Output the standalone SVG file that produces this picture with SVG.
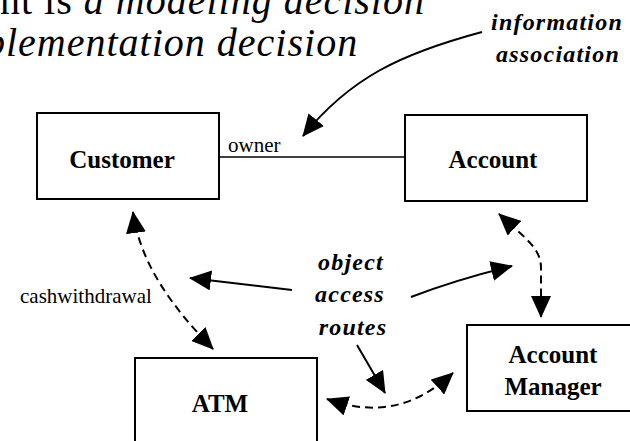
<svg xmlns="http://www.w3.org/2000/svg" width="630" height="441" viewBox="0 0 630 441">
  <defs>
    <style>
      .box { fill: #fff; stroke: #000; stroke-width: 2; }
      .name { font-family: "Liberation Serif", "Times New Roman", serif; font-weight: bold; font-size: 25px; fill: #000; text-anchor: middle; }
      .role { font-family: "Liberation Serif", "Times New Roman", serif; font-size: 21px; fill: #000; }
      .note { font-family: "Liberation Serif", "Times New Roman", serif; font-weight: bold; font-style: italic; font-size: 24px; letter-spacing: 1.2px; fill: #000; text-anchor: middle; }
      .title { font-family: "Liberation Serif", "Times New Roman", serif; font-size: 40px; letter-spacing: 1px; fill: #000; }
      .solid { fill: none; stroke: #000; stroke-width: 2; }
      .dash { fill: none; stroke: #000; stroke-width: 2; stroke-dasharray: 8 5; }
      .assoc { fill: none; stroke: #000; stroke-width: 1.6; }
    </style>
    <marker id="head" viewBox="0 0 22 20" refX="21" refY="10" markerWidth="22" markerHeight="20" markerUnits="userSpaceOnUse" orient="auto-start-reverse">
      <path d="M0,0 L22,10 L0,20 Z" fill="#000"/>
    </marker>
  </defs>

  <!-- heading text, partly outside the top edge -->
  <text class="title" x="0" y="14">nt is <tspan font-style="italic">a modeling decision</tspan></text>
  <text class="title" x="-15" y="56" font-style="italic">plementation decision</text>

  <!-- classes -->
  <g id="customer">
    <rect class="box" x="37" y="113" width="182" height="86"/>
    <text class="name" x="122" y="168">Customer</text>
  </g>
  <g id="account">
    <rect class="box" x="405" y="115" width="182" height="86"/>
    <text class="name" x="493" y="168">Account</text>
  </g>
  <g id="atm">
    <rect class="box" x="135" y="358" width="182" height="100"/>
    <text class="name" x="220" y="412">ATM</text>
  </g>
  <g id="account-manager">
    <rect class="box" x="467" y="325" width="182" height="86"/>
    <text class="name" x="553" y="363">Account</text>
    <text class="name" x="553" y="395">Manager</text>
  </g>

  <!-- annotations -->
  <g id="information-association">
    <text class="note" x="557" y="30">information</text>
    <text class="note" x="558" y="62">association</text>
  </g>
  <g id="object-access-routes">
    <text class="note" x="351" y="270">object</text>
    <text class="note" x="350" y="302">access</text>
    <text class="note" x="353" y="335">routes</text>
  </g>

  <!-- connectors -->
  <g id="connectors">
    <!-- owner association -->
    <line class="assoc" x1="219" y1="157" x2="405" y2="157"/>
    <text class="role" x="228" y="152">owner</text>

    <!-- cashwithdrawal route -->
    <path class="dash" d="M133,212 C140,262 170,305 213,349" marker-start="url(#head)" marker-end="url(#head)"/>
    <text class="role" x="20" y="303">cashwithdrawal</text>

    <!-- Account to Account Manager route -->
    <path class="dash" d="M499,214 C525,238 541,248 541,268 L541,317" marker-start="url(#head)" marker-end="url(#head)"/>

    <!-- ATM to Account Manager route -->
    <path class="dash" d="M327,399 C370,414 410,412 453,373" marker-start="url(#head)" marker-end="url(#head)"/>

    <!-- annotation pointers -->
    <path class="solid" d="M482,32 C400,54 350,78 303,136" marker-end="url(#head)"/>
    <path class="solid" d="M292,290 L190,278" marker-end="url(#head)"/>
    <path class="solid" d="M411,297 Q455,280 512,266" marker-end="url(#head)"/>
    <path class="solid" d="M357,345 L385,393" marker-end="url(#head)"/>
  </g>
</svg>
